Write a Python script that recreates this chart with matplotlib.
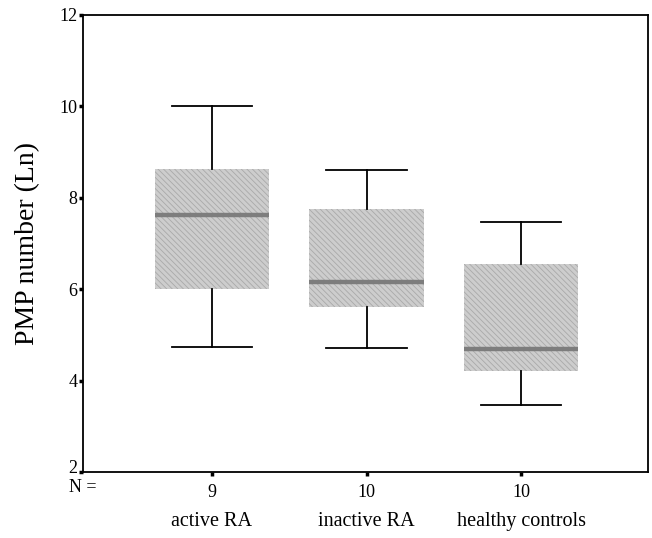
import matplotlib
matplotlib.use("Agg")
import matplotlib.pyplot as plt
import matplotlib.transforms as mtransforms

groups = ["active RA", "inactive RA", "healthy controls"]
counts = ["9", "10", "10"]
whislo = [4.73, 4.72, 3.47]
q1 = [6.0, 5.6, 4.21]
med = [7.62, 6.15, 4.69]
q3 = [8.64, 7.75, 6.55]
whishi = [10.0, 8.6, 7.47]

plt.rcParams["font.family"] = ["Liberation Serif", "DejaVu Serif"]
plt.rcParams["hatch.linewidth"] = 0.6

fig = plt.figure(figsize=(6.52, 5.38), dpi=100)
ax = fig.add_axes([0.127, 0.1227, 0.867, 0.8495])

stats = []
for i in range(len(groups)):
    stats.append({"label": counts[i], "whislo": whislo[i], "q1": q1[i],
                  "med": med[i], "q3": q3[i], "whishi": whishi[i], "fliers": []})

positions = [1, 2, 3]
ax.bxp(stats, positions=positions, widths=0.74, capwidths=0.52,
       showfliers=False, patch_artist=True,
       boxprops=dict(facecolor="#cdcdcd", edgecolor="#a9a9a9", linewidth=0,
                     hatch="\\\\\\\\\\\\"),
       medianprops=dict(color="#7d7d7d", linewidth=3.2, solid_capstyle="butt"),
       whiskerprops=dict(color="black", linewidth=1.3),
       capprops=dict(color="black", linewidth=1.3))

ax.set_xlim(0.165, 3.82)
ax.set_ylim(2, 12)
ax.set_yticks([2, 4, 6, 8, 10, 12])
ax.set_xticks(positions)
ax.set_xticklabels(counts)

for sp in ax.spines.values():
    sp.set_linewidth(1.3)

ax.tick_params(axis="both", direction="out", length=3, width=2.5, labelsize=13)
ax.tick_params(axis="x", pad=6)
ax.tick_params(axis="y", pad=1)
# the "2" label sits a little above its tick in the reference
lab2 = ax.get_yticklabels()[0]
lab2.set_transform(lab2.get_transform() +
                   mtransforms.ScaledTranslation(0, 4 / 72, fig.dpi_scale_trans))

ax.set_ylabel("PMP number (Ln)", fontsize=20, labelpad=14)

ax.text(0, -0.033, "N =", transform=ax.transAxes, ha="center", va="center", fontsize=13)
for p, g in zip(positions, groups):
    ax.text(p, -0.088, g, transform=ax.get_xaxis_transform(), ha="center", va="top",
            fontsize=14.5)

fig.savefig("out.png", dpi=100)
